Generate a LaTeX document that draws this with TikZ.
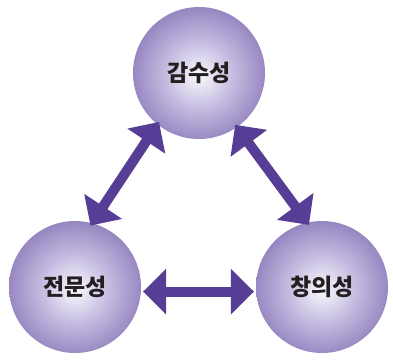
\documentclass[tikz,border=0pt]{standalone}
\usepackage{fontspec}
\newfontfamily\kr{Noto Sans CJK KR}
\usetikzlibrary{arrows.meta}
\definecolor{ballctr}{RGB}{250,249,253}
\definecolor{ballmid}{RGB}{196,187,224}
\definecolor{balledge}{RGB}{152,136,194}
\definecolor{arrowc}{RGB}{86,62,150}
\definecolor{txt}{RGB}{35,31,32}
\pgfdeclareradialshading{myball}{\pgfpoint{0bp}{-1bp}}{color(0bp)=(ballctr); color(13bp)=(ballmid); color(25bp)=(balledge); color(50bp)=(balledge)}
\tikzset{
  ball/.style={circle, minimum size=132pt, inner sep=0pt, shading=myball,
    text=txt, font=\kr\bfseries\fontsize{23}{26}\selectfont},
  link/.style={line width=10pt, draw=arrowc,
    {Triangle[length=23pt,width=44pt]}-{Triangle[length=23pt,width=44pt]}}
}
\begin{document}
\begin{tikzpicture}[x=1pt,y=-1pt]
\useasboundingbox (0,0) rectangle (393,359);
\node[ball] (T) at (199,73) {감수성};
\node[ball] (L) at (75,287) {전문성};
\node[ball] (R) at (322,287) {창의성};
\draw[link, shorten <=-3pt, shorten >=-3pt] (L.75) -- (T.231);
\draw[link, shorten <=-3pt, shorten >=-3pt] (T.305) -- (R.103);
\draw[link, shorten <=2pt, shorten >=2pt] (L.-4) -- (R.184);
\end{tikzpicture}
\end{document}
